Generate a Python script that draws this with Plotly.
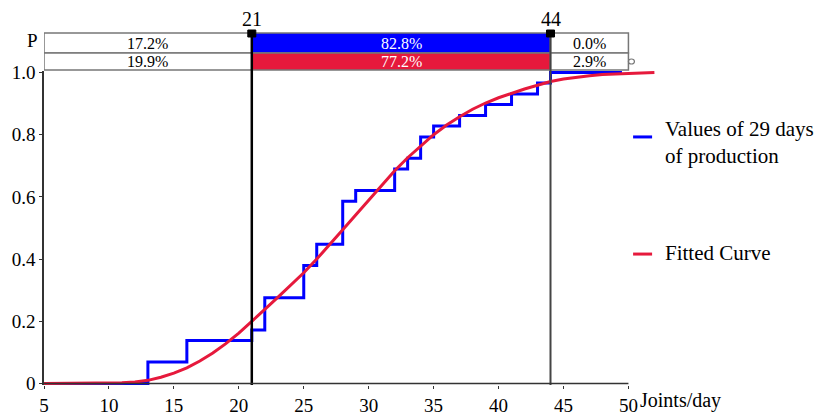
import plotly.graph_objects as go

# ---- data ----
# empirical CDF of 29 days of production (step positions and cumulative shares)
step_x = [5, 13, 16, 21, 22, 25, 26, 28, 29, 32, 33, 34, 35, 37, 39, 41, 43, 44, 49.5]
step_y = [0, 0.069, 0.138, 0.172, 0.276, 0.379, 0.448, 0.586, 0.621, 0.690, 0.724,
          0.793, 0.828, 0.862, 0.897, 0.931, 0.966, 1.0, 1.0]

# fitted cumulative curve
fit_x = [5, 6, 7, 8, 9, 10, 11, 12, 13, 14, 15, 16, 17, 18, 19, 20, 21, 22, 23, 24, 25,
         26, 27, 28, 29, 30, 31, 32, 33, 34, 35, 36, 37, 38, 39, 40, 41, 42, 43, 44, 45,
         46, 47, 48, 49, 50, 51, 52]
fit_y = [0, 0, 0, 0, 0, 0, 0.002, 0.005, 0.010, 0.020, 0.033, 0.05, 0.072, 0.098, 0.128,
         0.162, 0.199, 0.238, 0.277, 0.316, 0.356, 0.400, 0.446, 0.494, 0.542, 0.590,
         0.638, 0.684, 0.726, 0.764, 0.800, 0.831, 0.858, 0.882, 0.902, 0.919, 0.934,
         0.947, 0.959, 0.971, 0.979, 0.985, 0.990, 0.994, 0.996, 0.998, 0.999, 1.0]

# thresholds and the probability table above the chart
x_min, x_max = 5, 50
thresholds = [21, 44]
row_empirical = ["17.2%", "82.8%", "0.0%"]
row_fitted = ["19.9%", "77.2%", "2.9%"]

x_ticks = [5, 10, 15, 20, 25, 30, 35, 40, 45, 50]
y_ticks = [0, 0.2, 0.4, 0.6, 0.8, 1.0]
y_ticktext = ["0", "0.2", "0.4", "0.6", "0.8", "1.0"]

BLUE = "#0000FF"
RED = "#E6193C"
FONT = "Liberation Serif"

fig = go.Figure()
fig.add_trace(go.Scatter(x=step_x, y=step_y, mode="lines", line_shape="hv",
                         line=dict(color=BLUE, width=3), name="Values of 29 days of production"))
fig.add_trace(go.Scatter(x=fit_x, y=fit_y, mode="lines",
                         line=dict(color=RED, width=3), name="Fitted Curve"))

# paper-y positions of the table rows (above the plotting area)
ROW_TOP, ROW_MID, ROW_BOT = 1.121, 1.0573, 1.0032
shapes = []
annotations = []
edges = [x_min] + thresholds + [x_max]
for i in range(3):
    a, b = edges[i], edges[i + 1]
    fill1 = BLUE if i == 1 else "white"
    fill2 = RED if i == 1 else "white"
    shapes.append(dict(type="rect", xref="x", yref="paper", x0=a, x1=b, y0=ROW_MID, y1=ROW_TOP,
                       fillcolor=fill1, line=dict(color="#777777", width=1.5), layer="above"))
    shapes.append(dict(type="rect", xref="x", yref="paper", x0=a, x1=b, y0=ROW_BOT, y1=ROW_MID,
                       fillcolor=fill2, line=dict(color="#777777", width=1.5), layer="above"))
    tc = "white" if i == 1 else "black"
    annotations.append(dict(x=(a + b) / 2, y=(ROW_MID + ROW_TOP) / 2, xref="x", yref="paper",
                            text=row_empirical[i], showarrow=False,
                            xanchor="center", yanchor="middle",
                            font=dict(family=FONT, size=16, color=tc)))
    annotations.append(dict(x=(a + b) / 2, y=(ROW_BOT + ROW_MID) / 2, xref="x", yref="paper",
                            text=row_fitted[i], showarrow=False,
                            xanchor="center", yanchor="middle",
                            font=dict(family=FONT, size=16, color=tc)))

# threshold lines, handles, labels
for k, t in enumerate(thresholds):
    shapes.append(dict(type="line", xref="x", yref="paper", x0=t, x1=t, y0=0, y1=ROW_TOP,
                       line=dict(color="#000000" if k == 0 else "#444444", width=2.5 if k == 0 else 2),
                       layer="above"))
    shapes.append(dict(type="rect", xref="x", yref="paper", xsizemode="pixel", ysizemode="pixel",
                       xanchor=t, yanchor=ROW_TOP, x0=-4, x1=4, y0=-4, y1=3,
                       fillcolor="black", line=dict(color="black", width=1), layer="above"))
    annotations.append(dict(x=t, y=1.167, xref="x", yref="paper", text=str(t), showarrow=False,
                            xanchor="center", yanchor="middle",
                            font=dict(family=FONT, size=20, color="black")))

# small handle at the right end of the table
shapes.append(dict(type="circle", xref="x", yref="paper", xsizemode="pixel", ysizemode="pixel",
                   xanchor=x_max, yanchor=(ROW_BOT + ROW_MID) / 2, x0=0, x1=6, y0=-2.5, y1=2.5,
                   line=dict(color="#777777", width=1.2), layer="above"))

# x-axis base line from 5 to 50
shapes.append(dict(type="line", xref="x", yref="y", x0=x_min, x1=x_max, y0=0, y1=0,
                   line=dict(color="#333333", width=1.5), layer="above"))

# "P" label
annotations.append(dict(x=-0.018, y=1.0987, xref="paper", yref="paper", text="P", showarrow=False,
                        xanchor="center", yanchor="middle",
                        font=dict(family=FONT, size=19, color="black")))
# x-axis title
annotations.append(dict(x=0.9690, y=-0.05, xref="paper", yref="paper", text="Joints/day",
                        showarrow=False, xanchor="left", yanchor="middle",
                        font=dict(family=FONT, size=20, color="black")))

# custom legend
shapes.append(dict(type="line", xref="paper", yref="paper", x0=0.961, x1=0.992, y0=0.790, y1=0.790,
                   line=dict(color=BLUE, width=3)))
annotations.append(dict(x=1.0098, y=0.771, xref="paper", yref="paper",
                        text="Values of 29 days<br>of production", showarrow=False,
                        xanchor="left", yanchor="middle", align="left",
                        font=dict(family=FONT, size=21, color="black")))
shapes.append(dict(type="line", xref="paper", yref="paper", x0=0.961, x1=0.992, y0=0.417, y1=0.417,
                   line=dict(color=RED, width=3)))
annotations.append(dict(x=1.0098, y=0.420, xref="paper", yref="paper", text="Fitted Curve",
                        showarrow=False, xanchor="left", yanchor="middle",
                        font=dict(family=FONT, size=21, color="black")))

fig.update_layout(
    width=825, height=415,
    margin=dict(l=44, r=168, t=71, b=30),
    paper_bgcolor="white", plot_bgcolor="white",
    showlegend=False,
    shapes=shapes, annotations=annotations,
    font=dict(family=FONT, size=19, color="black"),
)
fig.update_xaxes(range=[x_min, 52.2], tickvals=x_ticks, showgrid=False, zeroline=False,
                 showline=False, ticks="outside", ticklen=3, tickcolor="#333333",
                 automargin=False,
                 tickfont=dict(family=FONT, size=19, color="black"))
fig.update_yaxes(range=[-0.005, 1.005], tickvals=y_ticks, ticktext=y_ticktext, showgrid=False,
                 zeroline=False, showline=True, linecolor="#333333", linewidth=1.5,
                 ticks="outside", ticklen=3, tickcolor="#333333", automargin=False,
                 tickfont=dict(family=FONT, size=19, color="black"))

# remove the default page margin so the 825x415 figure fills the window exactly
fig.write_html("out.html", config={"displayModeBar": False},
               post_script="document.body.style.margin='0';document.body.style.overflow='hidden';")
